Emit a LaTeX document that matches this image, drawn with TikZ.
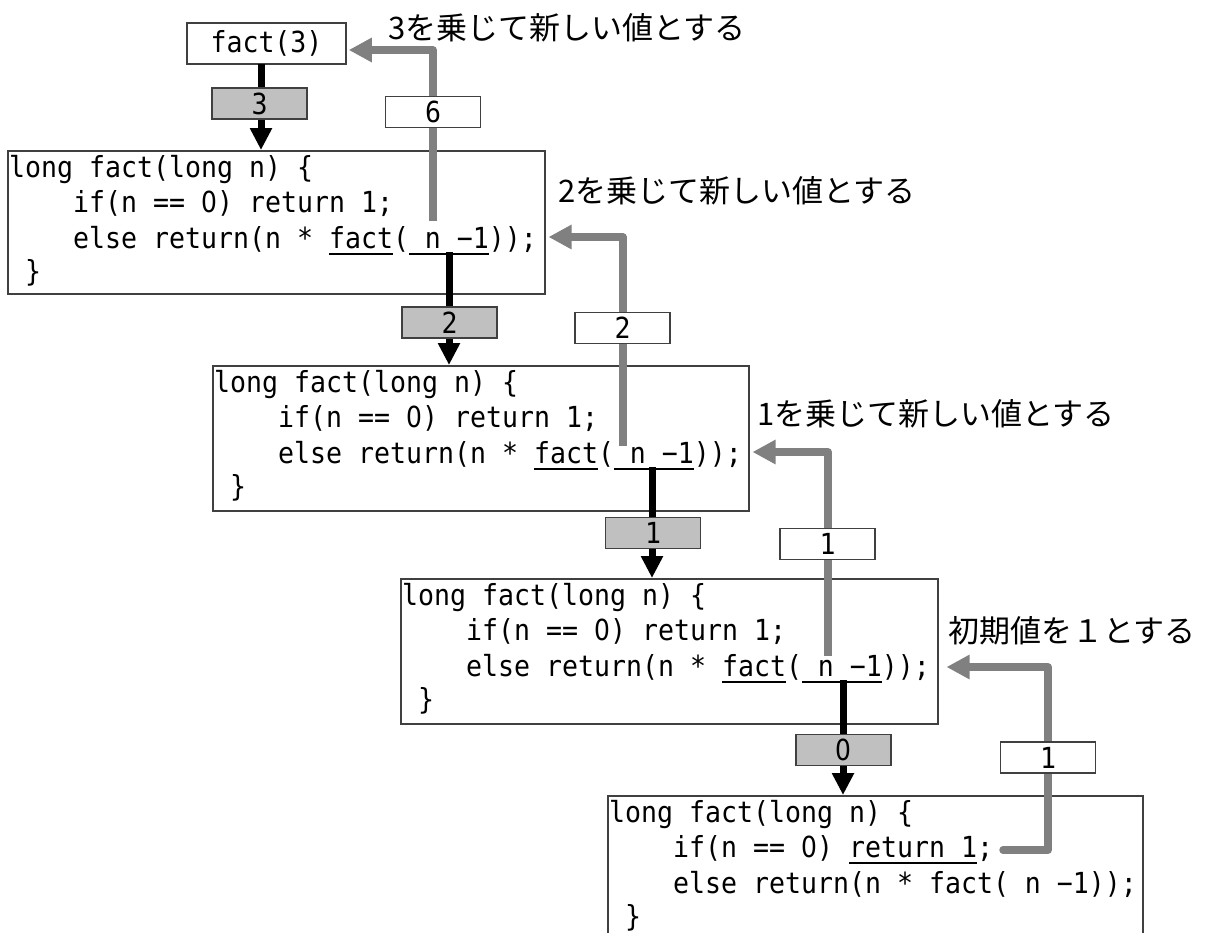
\documentclass[tikz,border=0pt]{standalone}
\usepackage{fontspec}
\usetikzlibrary{arrows.meta}
\newfontfamily\jpfont{Noto Sans CJK JP}
\newfontfamily\codefont[FakeStretch=0.916]{DejaVu Sans Mono}
\newfontfamily\zerofont[FakeStretch=0.86]{DejaVu Sans}
\definecolor{retgray}{HTML}{808080}
\definecolor{boxline}{HTML}{404040}
\definecolor{valfill}{HTML}{C0C0C0}
\newcommand\cf{\codefont\fontsize{29}{35}\selectfont\frenchspacing}
\newcommand\zr{\makebox[16pt][c]{\zerofont 0}}
\tikzset{
  codebox/.style={draw=boxline, line width=1.5pt, anchor=north west, inner sep=0pt, minimum width=#1},
  codeline/.style={anchor=base west, inner sep=0pt, font=\cf},
  callbox/.style={draw=boxline, line width=1.5pt, fill=white, inner sep=0pt, minimum width=159pt, minimum height=41pt, font=\cf},
  valdown/.style={draw=boxline, line width=1.5pt, fill=valfill, inner sep=0pt, minimum width=95pt, minimum height=31pt, font=\cf},
  valret/.style={draw=boxline, line width=1.5pt, fill=white, inner sep=0pt, minimum width=95pt, minimum height=31pt, font=\cf},
  callline/.style={line width=7pt, draw=black, -{Triangle[length=22pt,width=21pt]}},
  retline/.style={line width=7.5pt, draw=retgray, line join=round, -{Triangle[length=23pt,width=23pt,fill=retgray]}},
  uline/.style={line width=1.5pt, draw=black},
  jplabel/.style={anchor=west, inner sep=0pt, font=\jpfont\fontsize{31}{31}\selectfont}
}
% #1 box name, #2 line 2, #3 line 3
\newcommand\factlines[3]{%
  \node[codeline] (#1l1) at ([shift={(2,27)}]#1.north west) {long fact(long n) \{};
  \node[codeline] (#1l2) at ([shift={(2,62.5)}]#1.north west) {#2};
  \node[codeline] (#1l3) at ([shift={(2,98)}]#1.north west) {#3};
  \node[codeline] (#1l4) at ([shift={(2,131)}]#1.north west) {~\}};
}
% #1 box, #2 first column, #3 number of columns, #4 y offset
\newcommand\ulcols[4]{%
  \draw[uline] ([shift={({2+#2*16},#4)}]#1.north west) -- ++({#3*16},0);
}
\begin{document}
\begin{tikzpicture}[x=1pt,y=-1pt]
\useasboundingbox (0,0) rectangle (1209,932);
\clip (0,0) rectangle (1209,932);

% call box
\node[callbox] (f3) at (266.5,43.5) {fact(3)};

% code boxes
\node[codebox=537pt, minimum height=143pt] (b1) at (7,150) {};
\node[codebox=536pt, minimum height=145pt] (b2) at (212,365) {};
\node[codebox=537pt, minimum height=145pt] (b3) at (400,578) {};
\node[codebox=535pt, minimum height=170pt] (b4) at (607,795) {};

\factlines{b1}{~~~~if(n == \zr) return 1;}{~~~~else return(n * fact( n −1));}
\factlines{b2}{~~~~if(n == \zr) return 1;}{~~~~else return(n * fact( n −1));}
\factlines{b3}{~~~~if(n == \zr) return 1;}{~~~~else return(n * fact( n −1));}
\factlines{b4}{~~~~if(n == \zr) return 1;}{~~~~else return(n * fact( n −1));}

% underlines
\ulcols{b1}{20}{4}{104}\ulcols{b1}{25}{5}{104}
\ulcols{b2}{20}{4}{104}\ulcols{b2}{25}{5}{104}
\ulcols{b3}{20}{4}{104}\ulcols{b3}{25}{5}{104}
\ulcols{b4}{15}{8}{68}

% labels
\node[jplabel] (L3) at (388,28) {3を乗じて新しい値とする};
\node[jplabel] (L2) at (558,191) {2を乗じて新しい値とする};
\node[jplabel] (L1) at (757,414) {1を乗じて新しい値とする};
\node[jplabel] (L0) at (948,631) {初期値を１とする};

% call (downward) connectors
\coordinate (c0) at (261,64);
\coordinate (c1) at (449,252);
\coordinate (c2) at (652,467);
\coordinate (c3) at (843,680);
\draw[callline] (c0) -- (c0 |- b1.north);
\draw[callline] (c1) -- (c1 |- b2.north);
\draw[callline] (c2) -- (c2 |- b3.north);
\draw[callline] (c3) -- (c3 |- b4.north);

% return (upward) connectors
\coordinate (g1) at (433,221);
\coordinate (k1) at (433,50);
\coordinate (g2) at (623,446);
\coordinate (k2) at (623,237);
\coordinate (g3) at (828,656);
\coordinate (k3) at (828,452);
\coordinate (g4) at (1003,850);
\coordinate (j4) at (1048,850);
\coordinate (k4) at (1048,667);
\draw[retline, shorten >=2pt] (g1) -- (k1) -- (k1 -| f3.east);
\draw[retline, shorten >=3pt] (g2) -- (k2) -- (k2 -| b1.east);
\draw[retline, shorten >=3pt] (g3) -- (k3) -- (k3 -| b2.east);
\draw[retline, shorten >=8pt, line cap=round] (g4) -- (j4) -- (k4) -- (k4 -| b3.east);

% value boxes
\node[valdown] (v3) at (259.5,103.5) {3};
\node[valdown] (v2) at (449.5,322.5) {2};
\node[valdown] (v1) at (653,533) {1};
\node[valdown] (v0) at (843.5,750) {\zr};
\node[valret] (r6) at (433,112) {6};
\node[valret] (r2) at (622.5,328) {2};
\node[valret] (r1) at (827.5,544) {1};
\node[valret] (r1b) at (1048,757.5) {1};
\end{tikzpicture}
\end{document}
